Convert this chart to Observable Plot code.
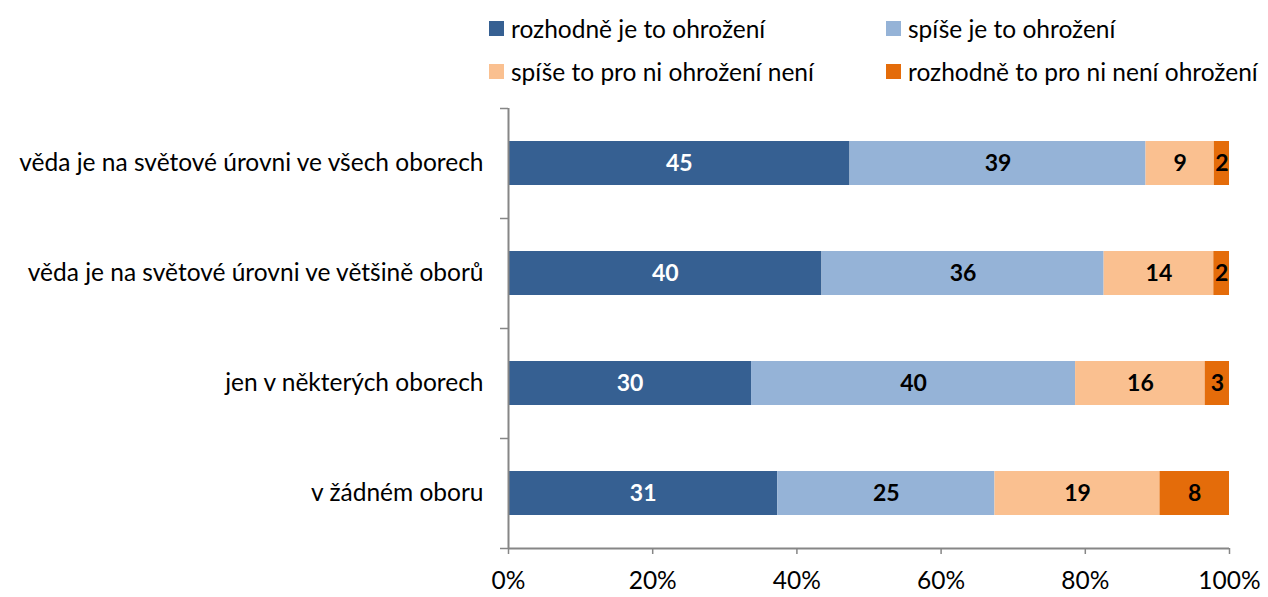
<!DOCTYPE html>
<html><head><meta charset="utf-8">
<script src="https://cdn.jsdelivr.net/npm/d3@7"></script>
<script src="https://cdn.jsdelivr.net/npm/@observablehq/plot@0.6"></script>
<style>
body{margin:0;background:#fff;font-family:Lato,"Open Sans",sans-serif;}
#legend{position:relative;height:100px;width:1268px;font-size:24.5px;color:#000;}
.item{position:absolute;display:flex;align-items:center;white-space:nowrap;height:15px;}
.sw{width:15px;height:15px;margin-right:7px;flex:none;}
</style></head><body>
<div id="legend"></div>
<div id="chart"></div>
<script>
const categories = [
  "věda je na světové úrovni ve všech oborech",
  "věda je na světové úrovni ve většině oborů",
  "jen v některých oborech",
  "v žádném oboru"
];
const series = [
  "rozhodně je to ohrožení",
  "spíše je to ohrožení",
  "spíše to pro ni ohrožení není",
  "rozhodně to pro ni není ohrožení"
];
const colors = ["#366092", "#95B3D7", "#FAC090", "#E46C0A"];
const values = [
  [45, 39, 9, 2],
  [40, 36, 14, 2],
  [30, 40, 16, 3],
  [31, 25, 19, 8]
];
const xTicks = [0, 0.2, 0.4, 0.6, 0.8, 1];

const data = [];
categories.forEach((c, i) => series.forEach((s, j) => data.push({cat: c, ser: s, v: values[i][j], k: j})));

// legend
const leg = document.getElementById("legend");
const pos = [[489, 21], [886, 21], [489, 64], [886, 64]];
series.forEach((s, j) => {
  const d = document.createElement("div");
  d.className = "item";
  d.style.left = pos[j][0] + "px";
  d.style.top = pos[j][1] + "px";
  d.innerHTML = `<span class="sw" style="background:${colors[j]}"></span><span>${s}</span>`;
  leg.appendChild(d);
});

const axisColor = "#868686";
const chart = Plot.plot({
  width: 1268,
  height: 497,
  marginLeft: 508,
  marginRight: 39,
  marginTop: 8,
  marginBottom: 49,
  style: {fontFamily: "Lato, 'Open Sans', sans-serif", fontSize: "24.5px", color: "#000", background: "#fff", overflow: "visible"},
  x: {domain: [0, 1]},
  y: {domain: categories, paddingInner: 0.6, paddingOuter: 0.3, align: 0.5},
  color: {domain: series, range: colors},
  marks: [
    Plot.barX(data, Plot.stackX({x: "v", y: "cat", fill: "ser", order: series, offset: "normalize"})),
    Plot.text(data, Plot.stackX({x: "v", y: "cat", z: "ser", order: series, offset: "normalize",
      text: "v", fill: d => d.k === 0 ? "#fff" : "#000", fontWeight: "bold", fontSize: 23})),
    Plot.ruleX([0], {stroke: axisColor, strokeWidth: 2}),
    Plot.ruleY([0], {y: () => categories[3], dy: 55, stroke: axisColor, strokeWidth: 2}),
    Plot.axisX(xTicks, {tickFormat: d => Math.round(d * 100) + "%", tickSize: 6, tickPadding: 17, stroke: axisColor, strokeWidth: 1.5, label: null, fontSize: 24.5, fill: "#000"}),
    Plot.axisY(categories, {tickSize: 0, tickPadding: 25, label: null, fontSize: 24.5, fill: "#000"}),
    Plot.axisY(categories, {tickSize: 8, tickFormat: null, dy: -55, stroke: axisColor, strokeWidth: 1.5, label: null}),
    Plot.axisY([categories[3]], {tickSize: 8, tickFormat: null, dy: 55, stroke: axisColor, strokeWidth: 1.5, label: null})
  ]
});
document.getElementById("chart").appendChild(chart);
</script>
</body></html>
